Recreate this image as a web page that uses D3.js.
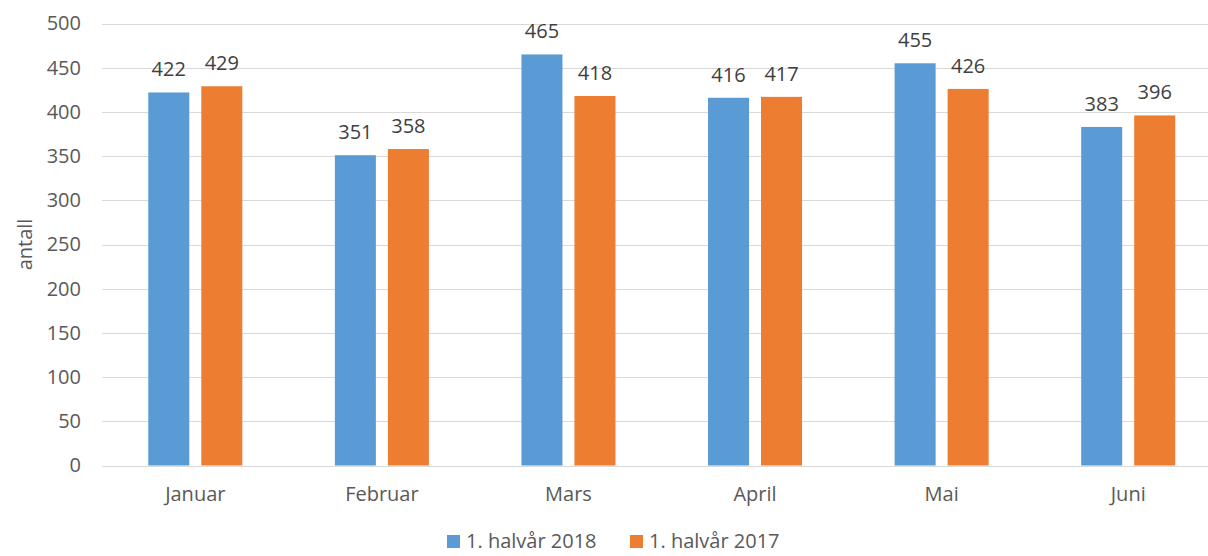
<!DOCTYPE html>
<html>
<head>
<meta charset="utf-8">
<script src="https://cdn.jsdelivr.net/npm/d3@7"></script>
<style>
  html, body { margin: 0; padding: 0; background: #fff; }
  svg { display: block; font-family: "Open Sans", "Noto Sans", sans-serif; }
</style>
</head>
<body>
<div id="chart"></div>
<script>
// Chart data
const months = ['Januar', 'Februar', 'Mars', 'April', 'Mai', 'Juni'];
const seriesNames = ['1. halvår 2018', '1. halvår 2017'];
const values2018 = [422, 351, 465, 416, 455, 383];
const values2017 = [429, 358, 418, 417, 426, 396];
const yTicks = [0, 50, 100, 150, 200, 250, 300, 350, 400, 450, 500];
const colors = ['#5b9bd5', '#ed7d31'];

const width = 1208;
const height = 556;
const fontSize = 20;

// Plot area (right side runs past the window edge like the reference)
const plot = { left: 102, right: 1221.5, top: 23.5, bottom: 465.5 };

const svg = d3.select('#chart')
    .append('svg')
    .attr('width', width)
    .attr('height', height);

const x0 = d3.scaleBand()
    .domain(months)
    .range([plot.left, plot.right])
    .paddingInner(0.496)
    .paddingOuter(0.248);

const x1 = d3.scaleBand()
    .domain(seriesNames)
    .range([0, x0.bandwidth()])
    .paddingInner(0.226);

const y = d3.scaleLinear()
    .domain([0, 500])
    .range([plot.bottom, plot.top]);

/* Gridlines */
svg.append('g')
    .attr('class', 'grid')
    .selectAll('line')
    .data(yTicks)
    .join('line')
    .attr('x1', plot.left)
    .attr('x2', width)
    .attr('y1', d => Math.round(y(d)) + 0.5)
    .attr('y2', d => Math.round(y(d)) + 0.5)
    .attr('stroke', '#d9d9d9')
    .attr('stroke-width', 1);

/* Y axis labels */
const yAxis = svg.append('g')
    .attr('transform', `translate(${plot.left - 21}, 0)`)
    .call(d3.axisLeft(y).tickValues(yTicks).tickSize(0).tickPadding(0));
yAxis.select('.domain').remove();
yAxis.selectAll('text')
    .attr('font-size', fontSize)
    .attr('font-family', '"Open Sans", sans-serif')
    .attr('fill', '#595959');

/* X axis labels */
const xAxis = svg.append('g')
    .attr('transform', `translate(0, ${plot.bottom + 21})`)
    .call(d3.axisBottom(x0).tickSize(0).tickPadding(0));
xAxis.select('.domain').remove();
xAxis.selectAll('text')
    .attr('font-size', fontSize)
    .attr('font-family', '"Open Sans", sans-serif')
    .attr('fill', '#595959');

/* Y axis title */
svg.append('text')
    .attr('transform', `translate(32, ${(plot.top + plot.bottom) / 2}) rotate(-90)`)
    .attr('text-anchor', 'middle')
    .attr('font-size', fontSize)
    .attr('fill', '#595959')
    .text('antall');

/* Bars */
const rows = months.map((m, i) => ({
  month: m,
  vals: [values2018[i], values2017[i]],
}));

const groups = svg.append('g')
    .selectAll('g')
    .data(rows)
    .join('g')
    .attr('transform', d => `translate(${x0(d.month)}, 0)`);

groups.selectAll('rect')
    .data(d => d.vals.map((v, j) => ({ name: seriesNames[j], value: v, idx: j })))
    .join('rect')
    .attr('x', d => x1(d.name))
    .attr('width', x1.bandwidth())
    .attr('y', d => y(d.value))
    .attr('height', d => y(0) - y(d.value))
    .attr('fill', d => colors[d.idx]);

groups.selectAll('text')
    .data(d => d.vals.map((v, j) => ({ name: seriesNames[j], value: v })))
    .join('text')
    .attr('x', d => x1(d.name) + x1.bandwidth() / 2)
    .attr('y', d => y(d.value) - 16)
    .attr('text-anchor', 'middle')
    .attr('font-size', fontSize)
    .attr('fill', '#404040')
    .text(d => d.value);

/* Legend */
const legend = svg.append('g')
    .attr('transform', 'translate(447, 541)');
const legendX = [0, 183];
const legendItems = legend.selectAll('g')
    .data(seriesNames)
    .join('g')
    .attr('transform', (d, i) => `translate(${legendX[i]}, 0)`);
legendItems.append('rect')
    .attr('x', 0)
    .attr('y', -6)
    .attr('width', 13)
    .attr('height', 13)
    .attr('fill', (d, i) => colors[i]);
legendItems.append('text')
    .attr('x', 19)
    .attr('y', 0)
    .attr('dy', '0.35em')
    .attr('font-size', fontSize)
    .attr('fill', '#595959')
    .text(d => d);
</script>
</body>
</html>
